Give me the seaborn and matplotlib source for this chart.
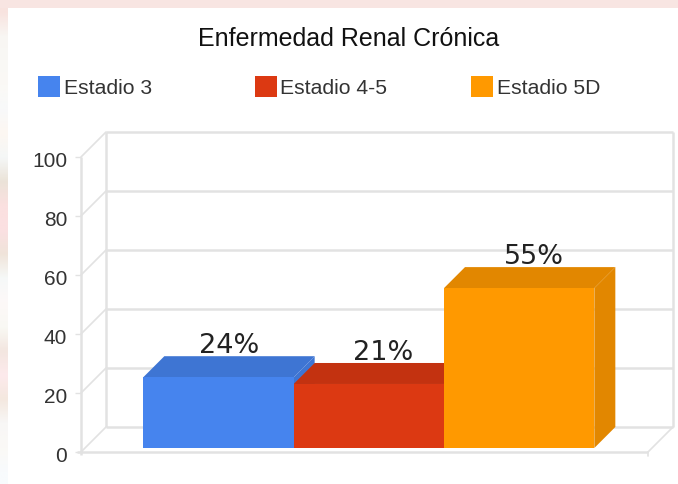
import matplotlib
matplotlib.use('Agg')
import matplotlib.pyplot as plt
import matplotlib.colors as mcolors
from matplotlib.patches import Polygon, Rectangle
from matplotlib.transforms import ScaledTranslation
import numpy as np
import seaborn as sns

sns.set_style('white')
plt.rcParams['font.family'] = ['Liberation Sans', 'DejaVu Sans']

# Data (bar heights as drawn, labels as printed)
stages = ['Estadio 3', 'Estadio 4-5', 'Estadio 5D']
bar_heights = [24, 21.7, 54.2]
percent_labels = ['24%', '21%', '55%']
y_ticks = [0, 20, 40, 60, 80, 100]
stage_colors = ['#4684EE', '#DC3912', '#FF9900']
title = 'Enfermedad Renal Crónica'

# Blotchy page colours down the left edge, top to bottom
page_band = ['#f8e3df', '#f8f6f3', '#f9f8f5', '#fbf9f6', '#f8f9fa', '#fdf7f2', '#f5f7f7', '#ebe3d8',
             '#fbe0e0', '#fbe0e2', '#f0e4da', '#f6f9f8', '#fdf8f8', '#f9f9f4', '#f3e6e0', '#fdeaec',
             '#f4e8df', '#f8f7f6', '#fbf9f6', '#f8fbfd']

W, H = 678, 484
GRID = '#e2e2e2'
TEXT = '#333333'


def fig_rect(left, top, right, bottom):
    # pixel box (origin top left) to figure fractions
    return [left / W, 1 - bottom / H, (right - left) / W, (bottom - top) / H]


fig = plt.figure(figsize=(W / 100, H / 100), dpi=100, facecolor='white')

# Pink page showing round the chart
fig.add_artist(Rectangle((0, 1 - 8 / H), 1, 8 / H, transform=fig.transFigure, color='#f8e5e2', lw=0))
ax_page = fig.add_axes(fig_rect(0, 0, 8, H))
ax_page.imshow(np.array([mcolors.to_rgb(c) for c in page_band])[:, None, :], aspect='auto', interpolation='bilinear')
ax_page.axis('off')

# Front plane of the 3D box
ax = fig.add_axes(fig_rect(81, 157, 648, 452))
ax.set_ylim(0, 100)
ax.set_xlim(0, 1)
ax.patch.set_alpha(0)
sns.despine(ax=ax, left=True, bottom=True, right=True, top=True)
ax.set_xticks([])
ax.set_yticks(y_ticks)
ax.set_yticklabels([str(t) for t in y_ticks], fontsize=15, color=TEXT, va='center_baseline')
ax.tick_params(axis='y', length=4, width=1, color=GRID, pad=6, left=True)
# tick labels sit a bit under their ticks
for lab in ax.get_yticklabels():
    lab.set_transform(lab.get_transform() + ScaledTranslation(0, -2.5 / 100, fig.dpi_scale_trans))

# back wall sits 25 px behind the front plane
wall_dx = 25 / 567
wall_dy = 25 / 2.95
line = dict(color=GRID, lw=1.8, clip_on=False, solid_capstyle='butt')
for t in y_ticks:
    ax.plot([wall_dx, 1 + wall_dx], [t + wall_dy, t + wall_dy], **line)
    ax.plot([0, wall_dx], [t, t + wall_dy], color=GRID, lw=1.2, clip_on=False)
ax.plot([wall_dx, wall_dx], [wall_dy, 100 + wall_dy], **line)
ax.plot([1 + wall_dx, 1 + wall_dx], [wall_dy, 100 + wall_dy], **line)
ax.plot([0, 0], [-1, 100], **line)
ax.plot([-0.007, 1], [0, 0], **line)
ax.plot([1, 1 + wall_dx], [0, wall_dy], color=GRID, lw=1.2, clip_on=False)
ax.plot([1, 1], [-1.5, 0], color=GRID, lw=1.2, clip_on=False)

# Bars stand a little in front of the floor edge
ax_bars = fig.add_axes(fig_rect(81, 153, 648, 448))
ax_bars.patch.set_alpha(0)
sns.barplot(x=stages, y=bar_heights, hue=stages, palette=stage_colors, width=1, legend=False,
            saturation=1, linewidth=0, ax=ax_bars)
ax_bars.set_xlim(-0.9146, 2.857)
ax_bars.set_ylim(0, 100)
ax_bars.axis('off')

depth_x = 21 / 150.33
depth_y = 21 / 2.95
label_nudge = [10.5 / 150.33, 14 / 150.33, 15 / 150.33]
for bar, color, label, nudge in zip(list(ax_bars.patches), stage_colors, percent_labels, label_nudge):
    x0, x1 = bar.get_x(), bar.get_x() + bar.get_width()
    top = bar.get_height()
    dark = tuple(c * 0.885 for c in mcolors.to_rgb(color))
    ax_bars.add_patch(Polygon([(x0, top), (x1, top), (x1 + depth_x, top + depth_y), (x0 + depth_x, top + depth_y)],
                              color=dark, lw=0, clip_on=False, zorder=1))
    ax_bars.add_patch(Polygon([(x1, 0), (x1 + depth_x, depth_y), (x1 + depth_x, top + depth_y), (x1, top)],
                              color=dark, lw=0, clip_on=False, zorder=1))
    bar.set_zorder(2)
    ax_bars.text((x0 + x1) / 2 + nudge, top + depth_y - 1.1, label, ha='center', va='bottom',
                 fontsize=19.5, color='#222222', family='DejaVu Sans', zorder=5)

# Title and legend row
fig.text(349 / W, 1 - 38.5 / H, title, ha='center', va='center', fontsize=18, color='#111111')
for name, color, x in zip(stages, stage_colors, [38, 254.5, 471]):
    fig.add_artist(Rectangle((x / W, 1 - 97 / H), 22 / W, 21 / H, transform=fig.transFigure, color=color, lw=0))
    fig.text((x + 26) / W, 1 - 89 / H, name, ha='left', va='center', fontsize=15.2, color=TEXT)

fig.savefig('out.png', dpi=100)
